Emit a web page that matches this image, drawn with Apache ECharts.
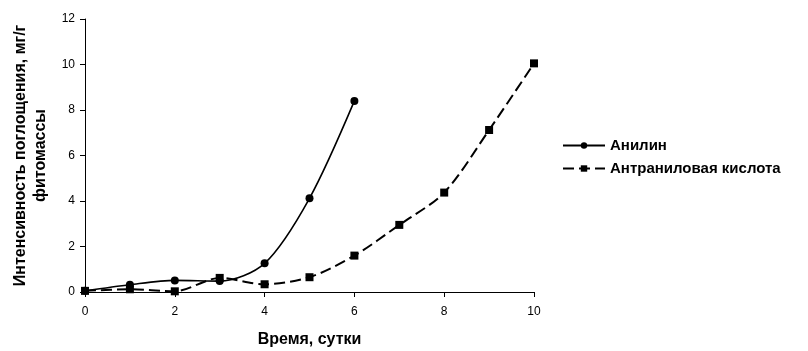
<!DOCTYPE html>
<html>
<head>
<meta charset="utf-8">
<script src="https://cdn.jsdelivr.net/npm/echarts@6/dist/echarts.min.js"></script>
<style>
  html, body { margin: 0; padding: 0; background: #fff; }
  #chart { width: 808px; height: 351px; }
</style>
</head>
<body>
<div id="chart"></div>
<script>
const days = [0, 1, 2, 3, 4, 5, 6, 7, 8, 9, 10]
const anilin = [0.05, 0.32, 0.51, 0.48, 1.26, 4.12, 8.4]
const antranil = [0.05, 0.12, 0.03, 0.62, 0.34, 0.65, 1.6, 2.95, 4.37, 7.12, 10.05]
const yTicks = [0, 2, 4, 6, 8, 10, 12]

const font = 'Liberation Sans, Arial, sans-serif'

const chart = echarts.init(document.getElementById('chart'))

chart.setOption({
  animation: false,
  textStyle: { fontFamily: font },
  grid: { left: 85, right: 274, top: 19, bottom: 59, outerBoundsMode: 'none', containLabel: false },
  legend: {
    orient: 'vertical',
    left: 557,
    top: 133,
    itemGap: 8,
    itemWidth: 42,
    itemHeight: 8,
    textStyle: { fontFamily: font, fontWeight: 'bold', fontSize: 15, color: '#000' },
    data: ['Анилин', 'Антраниловая кислота']
  },
  xAxis: {
    type: 'value',
    min: 0,
    max: 10,
    interval: 2,
    name: 'Время, сутки',
    nameLocation: 'middle',
    nameGap: 40,
    nameTextStyle: { fontFamily: font, fontWeight: 'bold', fontSize: 16, color: '#000' },
    axisLine: { lineStyle: { color: '#000', width: 1 } },
    axisTick: { show: true, length: 5, lineStyle: { color: '#000' } },
    axisLabel: { color: '#000', fontSize: 12, margin: 14 },
    splitLine: { show: false }
  },
  yAxis: {
    type: 'value',
    min: yTicks[0],
    max: yTicks[yTicks.length - 1],
    interval: 2,
    name: 'Интенсивность поглощения, мг/г\nфитомассы',
    nameLocation: 'middle',
    nameGap: 32,
    nameTextStyle: { fontFamily: font, fontWeight: 'bold', fontSize: 16, color: '#000', lineHeight: 20 },
    axisLine: { show: true, lineStyle: { color: '#000', width: 1 } },
    axisTick: { show: true, length: 5, lineStyle: { color: '#000' } },
    axisLabel: { color: '#000', fontSize: 12, margin: 10 },
    splitLine: { show: false }
  },
  series: [{
    name: 'Анилин',
    type: 'line',
    data: anilin.map((v, i) => [days[i], v]),
    smooth: 0.3,
    symbol: 'circle',
    symbolSize: 8,
    itemStyle: { color: '#000' },
    lineStyle: { color: '#000', width: 1.6 }
  }, {
    name: 'Антраниловая кислота',
    type: 'line',
    data: antranil.map((v, i) => [days[i], v]),
    smooth: 0.3,
    symbol: 'rect',
    symbolSize: 8,
    itemStyle: { color: '#000' },
    lineStyle: { color: '#000', width: 2, type: [11, 5] }
  }]
})
</script>
</body>
</html>
